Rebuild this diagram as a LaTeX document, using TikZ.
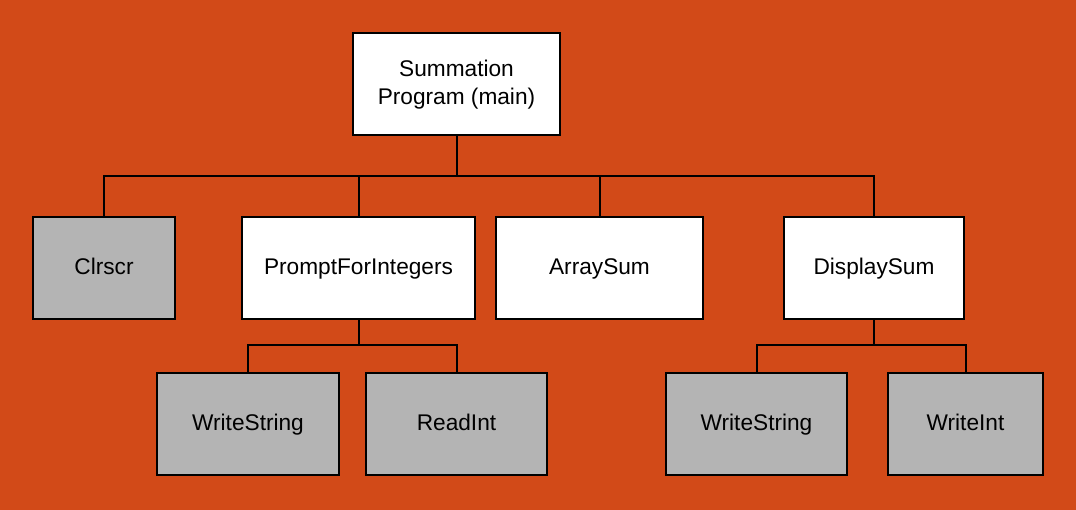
\documentclass[tikz,border=0pt]{standalone}
\usepackage{fontspec}
\setmainfont{Liberation Sans}
\usetikzlibrary{calc}
\definecolor{bgorange}{HTML}{D24A18}
\definecolor{boxgray}{HTML}{B4B4B4}
\begin{document}
\begin{tikzpicture}[x=0.75pt,y=-0.75pt]
\tikzstyle{module}=[draw=black,line width=1.5pt,fill=white,minimum height=76.5pt,
  inner sep=2pt,align=center,font=\fontsize{17}{21.5}\selectfont]
\tikzstyle{unit}=[module,text height=12.5pt,text depth=2.7pt]
\tikzstyle{libcall}=[unit,fill=boxgray]
\tikzstyle{wire}=[line width=1.5pt]
\fill[bgorange] (0,0) rectangle (1076,510);
\useasboundingbox (0,0) rectangle (1076,510);
% top level
\node[module,minimum width=155.25pt] (main) at (456.5,84.5) {Summation\\Program (main)};
% second level
\node[libcall,minimum width=106.5pt] (clrscr) at (104,267.5) {Clrscr};
\node[unit,minimum width=174.75pt] (prompt) at (358.5,267.5) {PromptForIntegers};
\node[unit,minimum width=155.25pt] (arraysum) at (599.5,267.5) {ArraySum};
\node[unit,minimum width=135pt] (display) at (874,267.5) {DisplaySum};
% third level
\node[libcall,minimum width=136.5pt] (wstrA) at (248,424) {WriteString};
\node[libcall,minimum width=135.75pt] (readint) at (456.5,424) {ReadInt};
\node[libcall,minimum width=135.75pt] (wstrB) at (756.5,424) {WriteString};
\node[libcall,minimum width=116.25pt] (writeint) at (965.5,424) {WriteInt};
% connectors
\foreach \c in {clrscr,prompt,arraysum,display}
  \draw[wire] (main.south) -- ++(0,40) -| (\c.north);
\foreach \c in {wstrA,readint}
  \draw[wire] (prompt.south) -- ++(0,25.5) -| (\c.north);
\foreach \c in {wstrB,writeint}
  \draw[wire] (display.south) -- ++(0,25.5) -| (\c.north);
\end{tikzpicture}
\end{document}
